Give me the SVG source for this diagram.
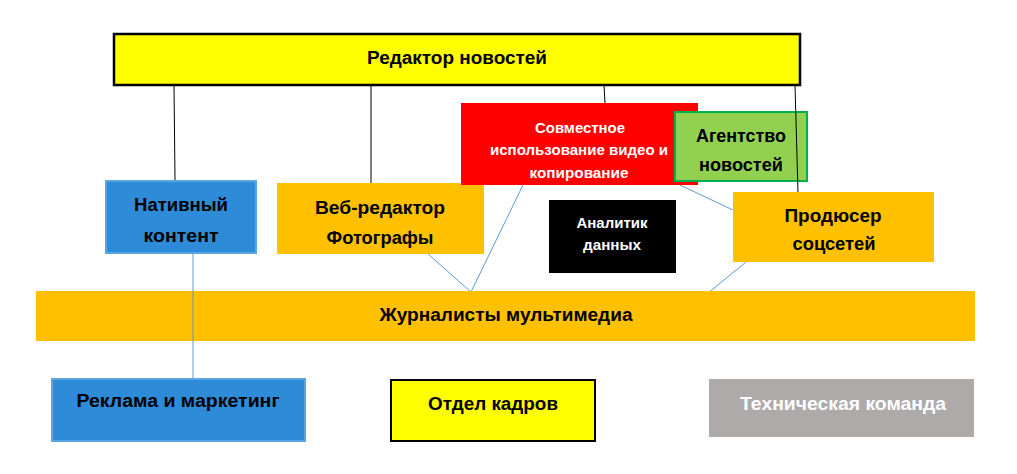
<svg xmlns="http://www.w3.org/2000/svg" width="1017" height="474" viewBox="0 0 1017 474">
<style>
text{font-family:"Liberation Sans",Arial,sans-serif;font-weight:bold;text-anchor:middle;dominant-baseline:central}
.k{fill:#000;font-size:18px}
.w{fill:#fff}
.orange{fill:#FFC000}
.bl{stroke:#000;stroke-width:1}
.cb{stroke:#5B9BD5;stroke-width:1;fill:none}
</style>
<rect width="1017" height="474" fill="#fff"/>
<g id="connectors" fill="none">
<line class="bl" x1="174" y1="85" x2="175" y2="180"/>
<line class="bl" x1="371" y1="85" x2="371" y2="183"/>
<line class="bl" x1="604" y1="85" x2="605" y2="103"/>
<line class="cb" x1="428" y1="254" x2="471" y2="292"/>
<line class="cb" x1="523" y1="185" x2="471" y2="292"/>
<line class="cb" x1="680" y1="185" x2="733" y2="210"/>
<line class="cb" x1="746" y1="262" x2="708" y2="293"/>
</g>
<g id="editor">
<rect x="114" y="34" width="686" height="51" fill="#FFFF00" stroke="#000" stroke-width="2.5"/>
<text class="k" x="457" y="58" textLength="180" lengthAdjust="spacingAndGlyphs">Редактор новостей</text>
</g>
<g id="native">
<rect x="106" y="181" width="150" height="72" fill="#2E8BD7" stroke="#5AA5E3" stroke-width="2"/>
<text class="k" x="181" y="205" textLength="94" lengthAdjust="spacingAndGlyphs">Нативный</text>
<text class="k" x="181" y="236" textLength="75" lengthAdjust="spacingAndGlyphs">контент</text>
</g>
<g id="webeditor">
<rect class="orange" x="277" y="183" width="207" height="71"/>
<text class="k" x="380" y="208" textLength="130" lengthAdjust="spacingAndGlyphs">Веб-редактор</text>
<text class="k" x="380" y="238" textLength="107" lengthAdjust="spacingAndGlyphs">Фотографы</text>
</g>
<g id="video">
<rect x="461" y="103" width="237" height="82" fill="#FF0000"/>
<text class="w" x="580" y="127" font-size="15" textLength="90" lengthAdjust="spacingAndGlyphs">Совместное</text>
<text class="w" x="579" y="149" font-size="15" textLength="178" lengthAdjust="spacingAndGlyphs">использование видео и</text>
<text class="w" x="579" y="172" font-size="15" textLength="99" lengthAdjust="spacingAndGlyphs">копирование</text>
</g>
<g id="agency">
<rect x="675" y="112" width="132" height="69" fill="#92D050" stroke="#00B050" stroke-width="2"/>
<text class="k" x="741" y="136" textLength="90" lengthAdjust="spacingAndGlyphs">Агентство</text>
<text class="k" x="741" y="165" textLength="84" lengthAdjust="spacingAndGlyphs">новостей</text>
</g>
<line id="editor-producer" class="bl" x1="795" y1="85" x2="798" y2="193"/>
<g id="analyst">
<rect x="549" y="200" width="127" height="73" fill="#000"/>
<text class="w" x="612" y="223" font-size="14" textLength="71" lengthAdjust="spacingAndGlyphs">Аналитик</text>
<text class="w" x="612" y="245" font-size="14" textLength="58" lengthAdjust="spacingAndGlyphs">данных</text>
</g>
<g id="producer">
<rect class="orange" x="733" y="192" width="201" height="70"/>
<text class="k" x="833" y="216" textLength="97" lengthAdjust="spacingAndGlyphs">Продюсер</text>
<text class="k" x="834" y="244" textLength="83" lengthAdjust="spacingAndGlyphs">соцсетей</text>
</g>
<g id="multimedia">
<rect class="orange" x="36" y="291" width="939" height="50"/>
<text class="k" x="506" y="315" textLength="253" lengthAdjust="spacingAndGlyphs">Журналисты мультимедиа</text>
</g>
<line id="native-ads" class="cb" x1="193" y1="253" x2="193" y2="378"/>
<g id="ads">
<rect x="52" y="379" width="253" height="62" fill="#2E8BD7" stroke="#5AA5E3" stroke-width="2"/>
<text class="k" x="178" y="401" textLength="203" lengthAdjust="spacingAndGlyphs">Реклама и маркетинг</text>
</g>
<g id="hr">
<rect x="391" y="380" width="204" height="61" fill="#FFFF00" stroke="#000" stroke-width="2"/>
<text class="k" x="493" y="404" textLength="130" lengthAdjust="spacingAndGlyphs">Отдел кадров</text>
</g>
<g id="tech">
<rect x="709" y="379" width="265" height="58" fill="#AEAAAA"/>
<text class="w" x="843" y="404" font-size="18" textLength="206" lengthAdjust="spacingAndGlyphs">Техническая команда</text>
</g>
</svg>
